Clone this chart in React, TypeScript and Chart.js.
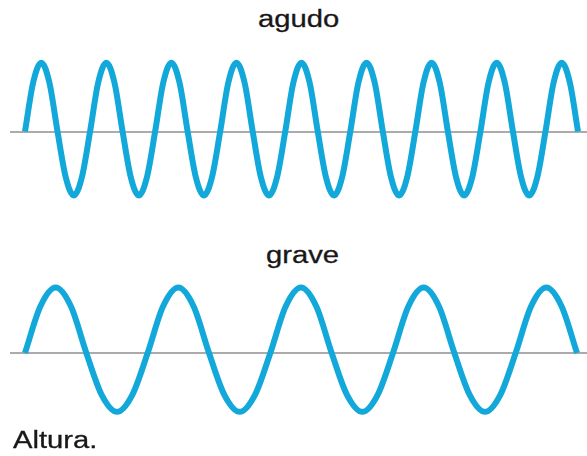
import React, { useEffect, useRef } from "react";
import { Chart, registerables } from "chart.js";

Chart.register(...registerables);

// Wave samples, one every eighth of a period (amplitude units)
const agudoValues = [
  0, 0.71, 1, 0.71, 0, -0.66, -0.93, -0.66,
  0, 0.71, 1, 0.71, 0, -0.66, -0.93, -0.66,
  0, 0.71, 1, 0.71, 0, -0.66, -0.93, -0.66,
  0, 0.71, 1, 0.71, 0, -0.66, -0.93, -0.66,
  0, 0.71, 1, 0.71, 0, -0.66, -0.93, -0.66,
  0, 0.71, 1, 0.71, 0, -0.66, -0.93, -0.66,
  0, 0.71, 1, 0.71, 0, -0.66, -0.93, -0.66,
  0, 0.71, 1, 0.71, 0, -0.66, -0.93, -0.66,
  0, 0.71, 1, 0.71, 0,
];

const graveValues = [
  0, 0.71, 1, 0.71, 0, -0.64, -0.9, -0.64,
  0, 0.71, 1, 0.71, 0, -0.64, -0.9, -0.64,
  0, 0.71, 1, 0.71, 0, -0.64, -0.9, -0.64,
  0, 0.71, 1, 0.71, 0, -0.64, -0.9, -0.64,
  0, 0.71, 1, 0.71, 0,
];

const titleAgudo = "agudo";
const titleGrave = "grave";
const caption = "Altura.";

const WAVE_COLOR = "#12A8DA";
const AXIS_COLOR = "#ABABAB";
const TEXT_COLOR = "#1A1718";

function makeConfig(values: number[], xMin: number, xMax: number): any {
  return {
    type: "line",
    data: {
      datasets: [
        {
          data: values.map((y, i) => ({ x: i, y })),
          borderColor: WAVE_COLOR,
          borderWidth: 6,
          pointRadius: 0,
          fill: false,
          cubicInterpolationMode: "monotone",
          clip: false,
        },
      ],
    },
    options: {
      animation: false,
      responsive: false,
      maintainAspectRatio: false,
      events: [],
      layout: { padding: 0 },
      plugins: {
        legend: { display: false },
        tooltip: { enabled: false },
        title: { display: false },
      },
      scales: {
        x: {
          type: "linear",
          min: xMin,
          max: xMax,
          position: { y: 0 },
          grid: { display: false, drawTicks: false },
          ticks: { display: false },
          border: { display: true, color: AXIS_COLOR, width: 2 },
        },
        y: {
          type: "linear",
          display: false,
          min: -1.3,
          max: 1.3,
        },
      },
    },
  };
}

function WaveChart(props: {
  values: number[];
  xMin: number;
  xMax: number;
  left: number;
  top: number;
  width: number;
  height: number;
}) {
  const ref = useRef<HTMLCanvasElement | null>(null);
  useEffect(() => {
    if (!ref.current) return;
    const chart = new Chart(ref.current, makeConfig(props.values, props.xMin, props.xMax));
    return () => chart.destroy();
  }, []);
  return (
    <canvas
      ref={ref}
      width={props.width}
      height={props.height}
      style={{
        position: "absolute",
        left: props.left,
        top: props.top,
        width: props.width,
        height: props.height,
      }}
    />
  );
}

const labelStyle = (left: number, top: number): React.CSSProperties => ({
  position: "absolute",
  left,
  top,
  fontFamily: '"Liberation Sans", Arial, sans-serif',
  fontSize: 23,
  lineHeight: "23px",
  color: TEXT_COLOR,
  whiteSpace: "nowrap",
  transform: "scaleX(1.27)",
  transformOrigin: "left top",
  WebkitTextStroke: "0.3px " + TEXT_COLOR,
});

export default function App() {
  return (
    <div
      style={{
        position: "absolute",
        left: 0,
        top: 0,
        width: 587,
        height: 456,
        background: "#ffffff",
        overflow: "hidden",
      }}
    >
      <div style={labelStyle(258, 8)}>{titleAgudo}</div>
      <WaveChart values={agudoValues} xMin={-1.845} xMax={69.107} left={10} top={42} width={577} height={179} />
      <div style={labelStyle(266, 243.8)}>{titleGrave}</div>
      <WaveChart values={graveValues} xMin={-0.978} xMax={36.652} left={10} top={268} width={577} height={170} />
      <div style={labelStyle(12.5, 428.8)}>{caption}</div>
    </div>
  );
}
